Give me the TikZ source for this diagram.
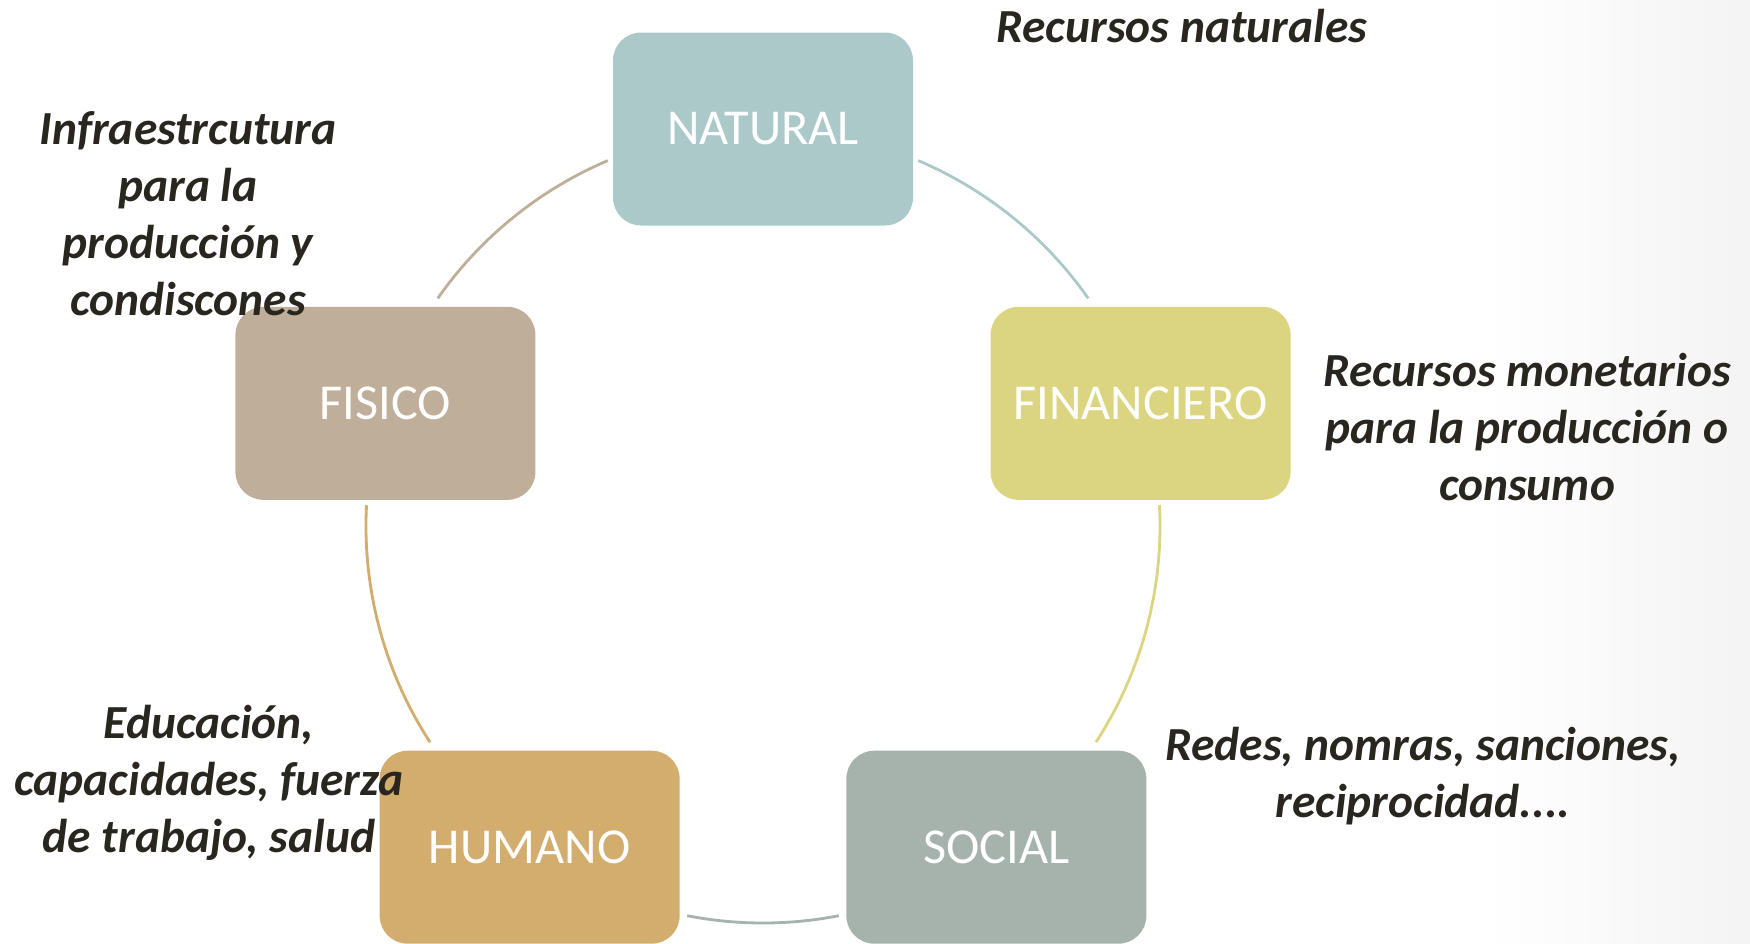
\documentclass[tikz,border=0pt]{standalone}
\usepackage{fontspec}
\setmainfont{Carlito}

\definecolor{natcol}{RGB}{171,201,201}
\definecolor{fincol}{RGB}{219,212,128}
\definecolor{soccol}{RGB}{166,178,172}
\definecolor{humcol}{RGB}{210,173,110}
\definecolor{fiscol}{RGB}{191,174,154}
\definecolor{notecol}{RGB}{40,38,30}

\begin{document}
\begin{tikzpicture}[
  capbox/.style={rectangle, rounded corners=0.28cm, minimum width=3cm,
    minimum height=1.93cm, inner sep=0pt, text=white,
    font=\fontsize{14.3}{17}\selectfont},
  note/.style={align=center, text=notecol,
    font=\fontsize{13.5}{16.2}\selectfont\bfseries\itshape},
  link/.style={line width=0.8pt}
]
\def\rad{3.97}

% page
\useasboundingbox (-7.63,-4.17) rectangle (9.87,5.26);
\shade[left color=white, right color=gray!9] (7.2,-4.17) rectangle (9.87,5.26);

% ring between the boxes
\coordinate (natend) at (67:\rad);
\coordinate (finend) at (3:\rad);
\coordinate (socend) at (-79:\rad);
\coordinate (humend) at (213:\rad);
\coordinate (fisend) at (145:\rad);

\draw[link, natcol] (natend) arc[start angle=67, end angle=35, radius=\rad];
\draw[link, fincol] (finend) arc[start angle=3, end angle=-33, radius=\rad];
\draw[link, soccol] (socend) arc[start angle=-79, end angle=-101, radius=\rad];
\draw[link, humcol] (humend) arc[start angle=213, end angle=177, radius=\rad];
\draw[link, fiscol] (fisend) arc[start angle=145, end angle=113, radius=\rad];

% capitals
\node[capbox, fill=natcol] (nat) at (90:\rad) {NATURAL};
\node[capbox, fill=fincol] (fin) at (18:\rad) {FINANCIERO};
\node[capbox, fill=soccol] (soc) at (-54:\rad) {SOCIAL};
\node[capbox, fill=humcol] (hum) at (-126:\rad) {HUMANO};
\node[capbox, fill=fiscol] (fis) at (162:\rad) {FISICO};

% descriptions
\node[note] (natnote) at (4.19,5.00) {Recursos naturales};
\node[note] (finnote) at (7.64,0.99) {Recursos monetarios\\para la producción o\\consumo};
\node[note] (socnote) at (6.60,-2.50) {Redes, nomras, sanciones,\\reciprocidad....};
\node[note] (humnote) at (-5.54,-2.57) {Educación,\\capacidades, fuerza\\de trabajo, salud};
\node[note] (fisnote) at (-5.75,3.12) {Infraestrcutura\\para la\\producción y\\condiscones};

\end{tikzpicture}
\end{document}
